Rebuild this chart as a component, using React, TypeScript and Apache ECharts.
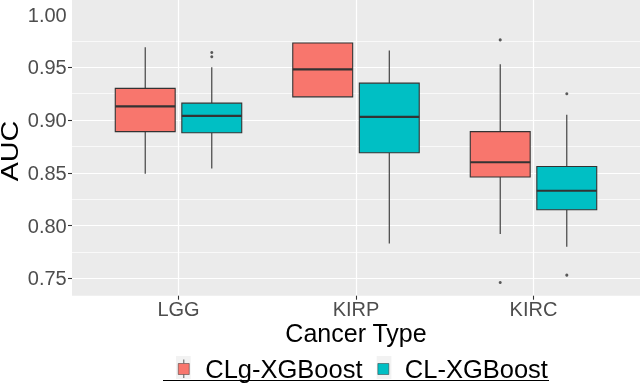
import React, { useEffect, useRef } from 'react';
import * as echarts from 'echarts';

const categories = ['LGG', 'KIRP', 'KIRC'];
const seriesNames = ['CLg-XGBoost', 'CL-XGBoost'];
const seriesColors = ['#F8766D', '#00BFC4'];
const yTitle = 'AUC';
const xTitle = 'Cancer Type';
// [min, Q1, median, Q3, max] per category
const clgStats = [
  [0.849, 0.889, 0.913, 0.930, 0.969],
  [0.922, 0.922, 0.948, 0.973, 0.973],
  [0.792, 0.846, 0.860, 0.889, 0.953],
];
const clStats = [
  [0.854, 0.888, 0.904, 0.916, 0.950],
  [0.783, 0.869, 0.903, 0.935, 0.966],
  [0.780, 0.815, 0.833, 0.856, 0.905],
];
// [categoryIndex, value]
const clgOutliers = [
  [2, 0.976],
  [2, 0.746],
];
const clOutliers = [
  [0, 0.964],
  [0, 0.960],
  [2, 0.925],
  [2, 0.753],
];
const yLabelValues = [0.75, 0.8, 0.85, 0.9, 0.95, 1.0];
const yMajorValues = [0.75, 0.8, 0.85, 0.9, 0.95];
const yMinorValues = [0.775, 0.825, 0.875, 0.925, 0.975];
const xTickValues = [1, 2, 3];

const Y_MIN = 0.7335;
const Y_MAX = 1.0138;
const DODGE = 0.1875;
const HALF = 0.16875;
const FONT = "'Liberation Sans', Arial, sans-serif";
const DARK = '#333333';

function boxSeries(name: string, color: string, stats: number[][], offset: number) {
  return {
    type: 'custom',
    name,
    xAxisIndex: 0,
    yAxisIndex: 0,
    itemStyle: { color },
    encode: { x: 0, y: [1, 2, 3, 4, 5] },
    data: stats.map((s, i) => [i + 1, ...s]),
    renderItem: (params: any, api: any) => {
      const x = api.value(0) + offset;
      const mn = api.value(1);
      const q1 = api.value(2);
      const md = api.value(3);
      const q3 = api.value(4);
      const mx = api.value(5);
      const tl = api.coord([x - HALF, q3]);
      const br = api.coord([x + HALF, q1]);
      const pMin = api.coord([x, mn]);
      const pQ1 = api.coord([x, q1]);
      const pQ3 = api.coord([x, q3]);
      const pMax = api.coord([x, mx]);
      const mL = api.coord([x - HALF, md]);
      const mR = api.coord([x + HALF, md]);
      return {
        type: 'group',
        children: [
          { type: 'line', shape: { x1: pMax[0], y1: pMax[1], x2: pQ3[0], y2: pQ3[1] }, style: { stroke: DARK, lineWidth: 1.1 } },
          { type: 'line', shape: { x1: pQ1[0], y1: pQ1[1], x2: pMin[0], y2: pMin[1] }, style: { stroke: DARK, lineWidth: 1.1 } },
          { type: 'rect', shape: { x: tl[0], y: tl[1], width: br[0] - tl[0], height: br[1] - tl[1] }, style: { fill: color, stroke: DARK, lineWidth: 1.1 } },
          { type: 'line', shape: { x1: mL[0], y1: mL[1], x2: mR[0], y2: mR[1] }, style: { stroke: DARK, lineWidth: 2.2 } },
        ],
      };
    },
  };
}

function outlierSeries(points: number[][], offset: number) {
  return {
    type: 'scatter',
    xAxisIndex: 0,
    yAxisIndex: 0,
    symbol: 'circle',
    symbolSize: 3,
    itemStyle: { color: DARK },
    data: points.map((p) => [p[0] + 1 + offset, p[1]]),
    z: 3,
  };
}

export default function App() {
  const ref = useRef<HTMLDivElement>(null);
  useEffect(() => {
    if (!ref.current) return;
    const chart = echarts.init(ref.current, undefined, { renderer: 'svg' });
    const option: any = {
      animation: false,
      textStyle: { fontFamily: FONT },
      grid: {
        left: 72,
        right: 0,
        top: 0,
        bottom: 88.3,
        show: true,
        backgroundColor: '#EBEBEB',
        borderWidth: 0,
        containLabel: false,
        outerBoundsMode: 'none',
      },
      legend: {
        data: seriesNames,
        left: 178,
        top: 356,
        padding: 0,
        icon: 'rect',
        itemWidth: 11,
        itemHeight: 11,
        itemGap: 15,
        itemStyle: { borderColor: DARK, borderWidth: 0.5 },
        textStyle: { fontFamily: FONT, fontSize: 25.5, color: '#000', lineHeight: 26, padding: [0, 0, 0, 11] },
        selectedMode: false,
      },
      xAxis: {
        type: 'value',
        min: 0.4,
        max: 3.6,
        name: xTitle,
        nameLocation: 'middle',
        nameGap: 25,
        nameMoveOverlap: false,
        nameTextStyle: { fontFamily: FONT, fontSize: 25, color: '#000' },
        axisLine: { show: false },
        axisTick: { show: true, length: 4, customValues: xTickValues, lineStyle: { color: DARK, width: 1.1 } },
        axisLabel: {
          customValues: xTickValues,
          margin: 3,
          fontFamily: FONT,
          fontSize: 20,
          color: '#4D4D4D',
          formatter: (v: number) => categories[Math.round(v) - 1] ?? '',
        },
        splitLine: { show: true, lineStyle: { color: '#FFFFFF', width: 1.2 } },
      },
      yAxis: [
        {
          type: 'value',
          min: Y_MIN,
          max: Y_MAX,
          axisLine: { show: false },
          axisTick: { show: true, length: 4, customValues: yMajorValues, lineStyle: { color: DARK, width: 1.1 } },
          axisLabel: {
            customValues: yLabelValues,
            margin: 5.3,
            fontFamily: FONT,
            fontSize: 20,
            color: '#4D4D4D',
            formatter: (v: number) => v.toFixed(2),
          },
          splitLine: { show: true, lineStyle: { color: '#FFFFFF', width: 1.2 } },
        },
        {
          type: 'value',
          min: Y_MIN,
          max: Y_MAX,
          position: 'left',
          axisLine: { show: false },
          axisTick: { show: false, customValues: yMinorValues },
          axisLabel: { show: false, customValues: yMinorValues },
          splitLine: { show: true, lineStyle: { color: '#FFFFFF', width: 0.7 } },
        },
      ],
      graphic: [
        {
          type: 'text',
          x: 10.5,
          y: 151,
          rotation: Math.PI / 2,
          scaleX: 1.25,
          style: {
            text: yTitle,
            x: 0,
            y: 0,
            fontFamily: FONT,
            fontSize: 23,
            fill: '#000',
            align: 'center',
            verticalAlign: 'middle',
            textAlign: 'center',
            textVerticalAlign: 'middle',
          },
        },
        { type: 'rect', shape: { x: 176, y: 356, width: 14.7, height: 23 }, style: { fill: '#F2F2F2' }, z: -1 },
        { type: 'line', shape: { x1: 183.8, y1: 359.5, x2: 183.8, y2: 363.3 }, style: { stroke: DARK, lineWidth: 0.8 } },
        { type: 'line', shape: { x1: 183.8, y1: 374.3, x2: 183.8, y2: 378 }, style: { stroke: DARK, lineWidth: 0.8 } },
        { type: 'rect', shape: { x: 376.7, y: 356, width: 14.7, height: 23 }, style: { fill: '#F2F2F2' }, z: -1 },
        { type: 'line', shape: { x1: 163, y1: 380.5, x2: 549, y2: 380.5 }, style: { stroke: '#000', lineWidth: 1.2 } },
      ],
      series: [
        boxSeries(seriesNames[0], seriesColors[0], clgStats, -DODGE),
        boxSeries(seriesNames[1], seriesColors[1], clStats, DODGE),
        outlierSeries(clgOutliers, -DODGE),
        outlierSeries(clOutliers, DODGE),
      ],
    };
    chart.setOption(option);
    return () => chart.dispose();
  }, []);
  return <div ref={ref} style={{ position: 'fixed', left: 0, top: 0, width: 640, height: 384 }} />;
}
